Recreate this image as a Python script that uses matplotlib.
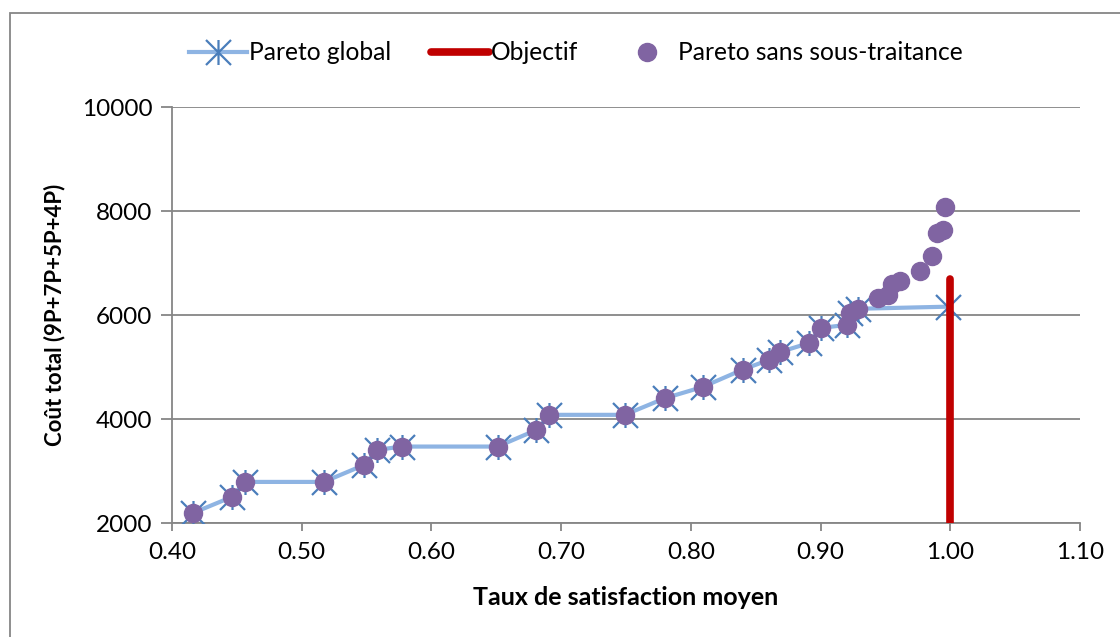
import numpy as np
import matplotlib.pyplot as plt
from matplotlib.path import Path
from matplotlib.patches import Rectangle
from matplotlib.ticker import FormatStrFormatter

plt.rcParams['font.family'] = ['Lato', 'DejaVu Sans']

# Pareto global (courbe avec étoiles)
glob_x = [0.416, 0.446, 0.456, 0.517, 0.548, 0.558, 0.577, 0.651, 0.681, 0.691,
          0.749, 0.780, 0.809, 0.840, 0.860, 0.869, 0.891, 0.900, 0.920, 0.923,
          0.929, 0.998]
glob_y = [2190, 2500, 2790, 2790, 3115, 3405, 3470, 3470, 3790, 4080,
          4080, 4400, 4615, 4950, 5135, 5290, 5460, 5750, 5810, 6040,
          6120, 6160]

# Pareto sans sous-traitance (points)
sst_x = glob_x[:-1] + [0.944, 0.952, 0.955, 0.961, 0.977, 0.986, 0.990, 0.994, 0.996]
sst_y = glob_y[:-1] + [6320, 6380, 6590, 6650, 6850, 7140, 7580, 7630, 8070]

# Objectif
obj_x = [1.0, 1.0]
obj_y = [0, 6700]

x_ticks = [0.40, 0.50, 0.60, 0.70, 0.80, 0.90, 1.00, 1.10]
y_ticks = [2000, 4000, 6000, 8000, 10000]

# marqueur étoile style Excel : X + barre verticale
star = Path([(-1, -1), (1, 1), (-1, 1), (1, -1), (0, -1), (0, 1)],
            [Path.MOVETO, Path.LINETO, Path.MOVETO, Path.LINETO, Path.MOVETO, Path.LINETO])

fig = plt.figure(figsize=(11.2, 6.37), dpi=100)
ax = fig.add_axes([172 / 1120, 1 - 523 / 637, 908 / 1120, 416 / 637])

grid_c = '#868686'
ax.set_axisbelow(True)
ax.grid(axis='y', color=grid_c, linewidth=1.3)

l1, = ax.plot(glob_x, glob_y, color='#8EB4E3', linewidth=3, marker=star,
              markersize=18, markeredgecolor='#4A7EBB', markeredgewidth=1.6,
              markerfacecolor='none', zorder=3, label='Pareto global')
l2, = ax.plot(obj_x, obj_y, color='#C00000', linewidth=5.5, solid_capstyle='round',
              zorder=4, label='Objectif')
l3, = ax.plot(sst_x, sst_y, linestyle='none', marker='o', markersize=13,
              color='#8064A2', zorder=5, label='Pareto sans sous-traitance')

ax.set_xlim(0.40, 1.10)
ax.set_ylim(2000, 10000)
ax.set_xticks(x_ticks)
ax.set_yticks(y_ticks)
ax.xaxis.set_major_formatter(FormatStrFormatter('%.2f'))

for s in ['top', 'right']:
    ax.spines[s].set_visible(False)
for s in ['left', 'bottom']:
    ax.spines[s].set_color(grid_c)
    ax.spines[s].set_linewidth(1.3)
ax.tick_params(axis='both', colors=grid_c, labelcolor='black', labelsize=17.5,
               width=1.3, direction='out')
ax.tick_params(axis='y', length=8, pad=6)
ax.tick_params(axis='x', length=6, pad=8)

ax.set_xlabel('Taux de satisfaction moyen', fontsize=18, fontweight='bold', labelpad=16)
ax.set_ylabel('Coût total (9P+7P+5P+4P)', fontsize=16, fontweight='bold', labelpad=12)

fig.legend(handles=[l1, l2, l3], loc='center', bbox_to_anchor=(576 / 1120, 1 - 53 / 637),
           ncol=3, frameon=False, fontsize=17.7, handlelength=2.35, columnspacing=1.6,
           handletextpad=0.1)

fig.patches.append(Rectangle((10 / 1120, -0.05), 1.2, 1 - 13 / 637 + 0.05,
                             transform=fig.transFigure, fill=False,
                             edgecolor=grid_c, linewidth=1.3))

fig.savefig('out.png', dpi=100)
